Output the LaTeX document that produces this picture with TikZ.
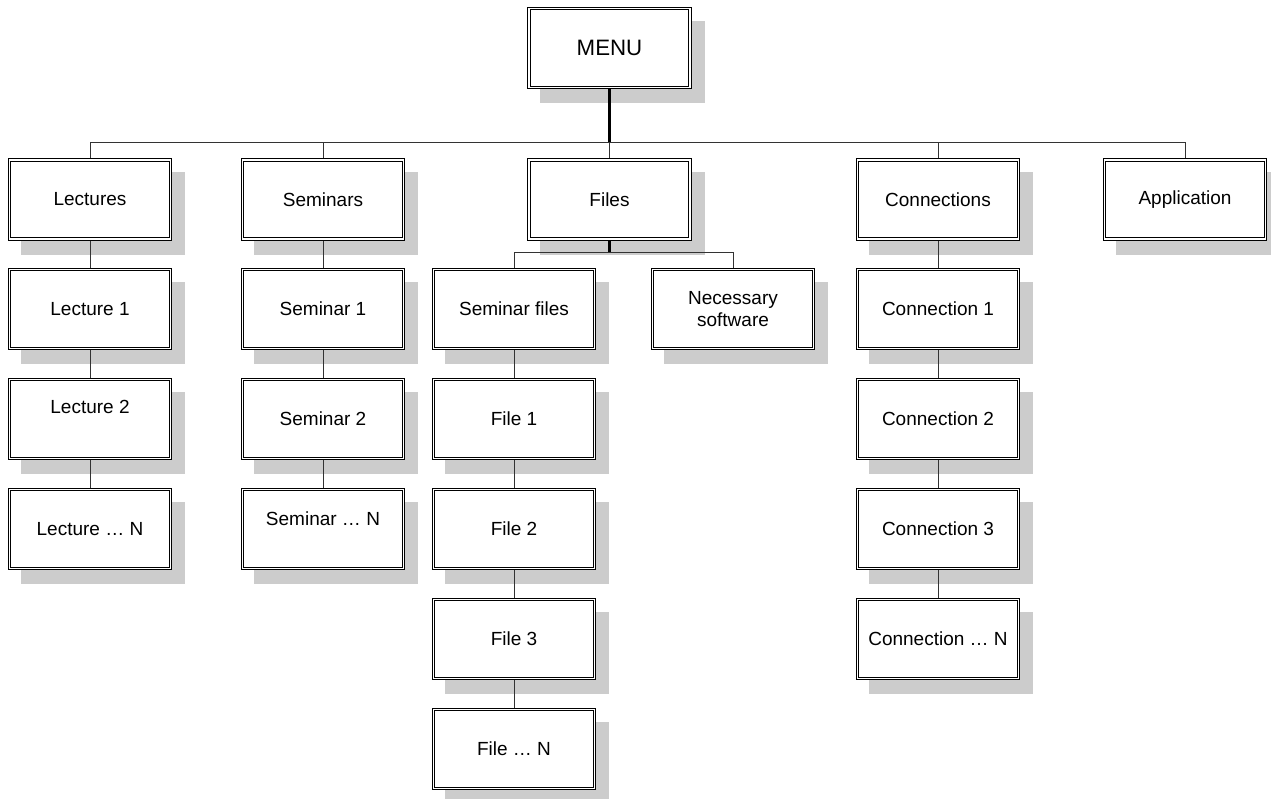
\documentclass[tikz,border=0pt]{standalone}
\usepackage{fontspec}
\setmainfont{Liberation Sans}
\usetikzlibrary{shadows}
\tikzset{
  box/.style={rectangle, draw=black, double=white, double distance=1.6pt, line width=0.9pt,
    minimum width=161pt, minimum height=79pt, inner sep=2pt, outer sep=1.7pt,
    fill=white, align=center, font=\fontsize{19}{21.5}\selectfont,
    general shadow={fill=black!20, draw=black!20, line width=3.4pt, shadow xshift=13pt, shadow yshift=-14pt}},
  menubox/.style={box, font=\fontsize{22.3}{26}\selectfont},
  link/.style={draw=black!80, line width=0.9pt},
  stem/.style={draw=black, line width=2.2pt},
}
\begin{document}
\begin{tikzpicture}[x=1pt,y=-1pt]
\useasboundingbox (0,0) rectangle (1271,799);
% top
\node[menubox] (menu) at (609.5,48) {MENU};
\node[box] (lect) at (90,199.5) {Lectures};
\node[box] (sem) at (323,199.5) {Seminars};
\node[box] (files) at (609.5,199.5) {Files};
\node[box] (conn) at (938,199.5) {Connections};
\node[box] (app) at (1185,199.5) {Application};
% lectures
\node[box] (l1) at (90,309) {Lecture 1};
\node[box] (l2) at (90,419) {\raisebox{12pt}[\height][\depth]{Lecture 2}};
\node[box] (ln) at (90,529) {Lecture … N};
% seminars
\node[box] (s1) at (323,309) {Seminar 1};
\node[box] (s2) at (323,419) {Seminar 2};
\node[box] (sn) at (323,529) {\raisebox{10pt}[\height][\depth]{Seminar … N}};
% files
\node[box] (sf) at (514,309) {Seminar files};
\node[box] (ns) at (733,309) {Necessary\\software};
\node[box] (f1) at (514,419) {File 1};
\node[box] (f2) at (514,529) {File 2};
\node[box] (f3) at (514,639) {File 3};
\node[box] (fn) at (514,749) {File … N};
% connections
\node[box] (c1) at (938,309) {Connection 1};
\node[box] (c2) at (938,419) {Connection 2};
\node[box] (c3) at (938,529) {Connection 3};
\node[box] (cn) at (938,639) {Connection … N};
% connectors
\coordinate (bus) at (609.5,142);
\draw[stem] (menu.south) -- (bus);
\draw[link] (bus) -| (lect.north);
\draw[link] (bus) -| (sem.north);
\draw[link] (bus) -- (files.north);
\draw[link] (bus) -| (conn.north);
\draw[link] (bus) -| (app.north);
\coordinate (fbus) at (609.5,252);
\draw[stem] (files.south) -- (fbus);
\draw[link] (fbus) -| (sf.north);
\draw[link] (fbus) -| (ns.north);
\draw[link] (lect) -- (l1);
\draw[link] (l1) -- (l2);
\draw[link] (l2) -- (ln);
\draw[link] (sem) -- (s1);
\draw[link] (s1) -- (s2);
\draw[link] (s2) -- (sn);
\draw[link] (sf) -- (f1);
\draw[link] (f1) -- (f2);
\draw[link] (f2) -- (f3);
\draw[link] (f3) -- (fn);
\draw[link] (conn) -- (c1);
\draw[link] (c1) -- (c2);
\draw[link] (c2) -- (c3);
\draw[link] (c3) -- (cn);
\end{tikzpicture}
\end{document}
